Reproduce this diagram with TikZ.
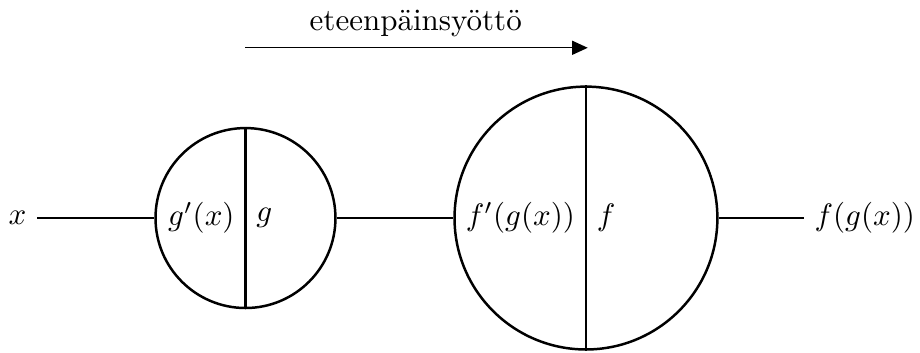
\documentclass[tikz,border=0pt]{standalone}
\usepackage{amsmath}
\usetikzlibrary{positioning,arrows.meta}

\begin{document}
\begin{tikzpicture}[
  unit/.style={circle,draw,thick,inner sep=0pt},
  split/.style={thick},
  link/.style={line width=0.4pt},
  ]
  \useasboundingbox (-2.783,-1.519) rectangle (7.647,2.472);
  % neuronit
  \node[unit,minimum size=2.04cm] (g) at (0,0) {};
  \node[unit,minimum size=2.98cm] (f) at (3.86,0) {};
  \draw[split] (g.north) -- (g.south);
  \draw[split] (f.north) -- (f.south);
  \node[left] (gd) at (g.center) {$g'(x)$};
  \node[right] (gn) at (g.center) {$g$};
  \node[left] (fd) at (f.center) {$f'(g(x))$};
  \node[right] (fn) at (f.center) {$f$};
  % syote ja tulos
  \node (x) at (-2.585,0) {$x$};
  \node (out) at (7.02,0) {$f(g(x))$};
  \draw[link] (x) -- (g);
  \draw[link] (g) -- (f);
  \draw[link] (f) -- (out);
  % suunta
  \coordinate (a0) at (0,1.93);
  \coordinate (a1) at (3.88,1.93);
  \draw[link,-{Triangle[length=5pt,width=4.5pt]}] (a0) -- (a1);
  \node (dir) at (1.93,2.21) {eteenpäinsyöttö};
\end{tikzpicture}
\end{document}
